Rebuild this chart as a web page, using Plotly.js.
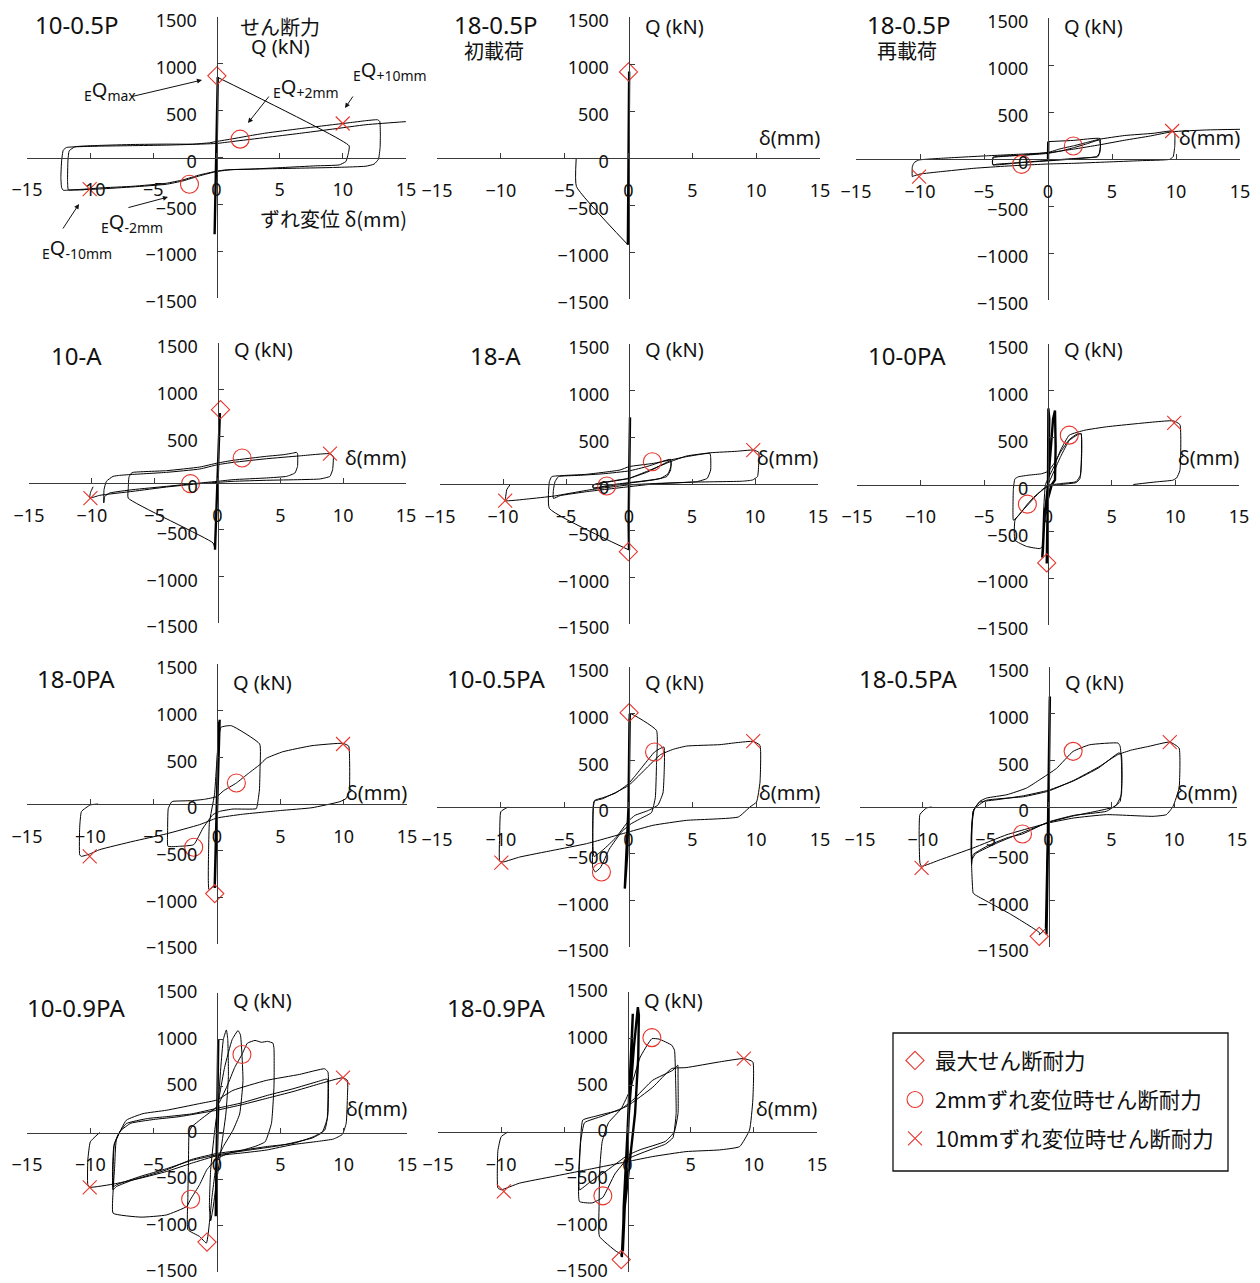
<!DOCTYPE html>
<html><head><meta charset="utf-8">
<script src="https://cdn.plot.ly/plotly-3.0.1.min.js"></script>
<style>html,body{margin:0;padding:0;background:#fff}#chart{width:1260px;height:1283px}</style>
</head><body><div id="chart"></div>
<script>
// ---------------- DATA (δ in mm, Q in kN) ----------------
const panelNames = ["10-0.5P","18-0.5P","18-0.5P","10-A","18-A","10-0PA","18-0PA","10-0.5PA","18-0.5PA","10-0.9PA","18-0.9PA"];
const panelSubs  = ["","初載荷","再載荷","","","","","","","",""];
const xTicks = [-15,-10,-5,0,5,10,15];
const yTicks = [-1500,-1000,-500,0,500,1000,1500];
const legendNames = ["最大せん断耐力","2mmずれ変位時せん断耐力","10mmずれ変位時せん断耐力"];

// initial near-zero cycles (drawn thicker)
const p1CoreX=[0,0.05,0.1,0.02,-0.1,-0.15,-0.05,0.05,0.1];
const p1CoreY=[0,400,860,0,-500,-820,0,450,855];
const p1LoopX=[0.1,10.5,10.45,10.24,9.71,7.87,5.24,2.61,0.76,0,-1.34,-2.66,-3.97,-6.61,-9.24,-10.55,-11.6,-11.74,-11.79,-11.76,-11.66,-11.21,-9.24,-6.6,-3.97,-1.87,-0.55,0,1.29,2.61,3.92,6.55,9.18,10.5,11.82,12.74,12.92,12.97,12.95,12.82,12.47,11.82,9.18,6.55,3.92,1.29,0,-1.34,-2.66,-3.97,-6.61,-9.24,-11.87,-12.13,-12.26,-12.32,-12.26,-12.13,-11.87,-9.24,-3.97,0,1.29,3.92,6.55,9.18,11.82,14.47,16.03];
const p1LoopY=[855,125,54,-43,-79,-89,-107,-125,-132,-146,-186,-239,-275,-307,-325,-339,-346,-343,-250,-36,71,114,129,139,143,143,157,171,200,232,261,307,350,371,393,403,386,250,107,-18,-71,-93,-107,-114,-121,-129,-150,-196,-250,-286,-314,-336,-350,-350,-321,-214,-36,79,107,121,132,150,171,214,257,303,350,378,393];

const p2CoreX=[0,0.03,0.05,0.02,-0.03,-0.05,0,0.04,0.02,-0.04,-0.05];
const p2CoreY=[0,500,920,300,-400,-700,0,500,0,-600,-923];
const p2LoopX=[-0.05,-4.08,-4.1];
const p2LoopY=[-923,-303,-10];

const p3CoreX=[0,0.02];
const p3CoreY=[0,185];
const p3LoopX=[0.02,2,4.06,4.1,4.05,3.9,3,2,0,-2,-4,-4.3,-4.35,-4.25,-3,-1,0,1,2,3,4,4.1,4,3.8,2,0,-2,-4.3,-4.3,-2,0,1,2,3,4,6,8.2,9.7,9.9,9.9,9.78,9.5,7.2,4.6,2,0,-3.2,-5.8,-8.4,-10,-10.5,-10.6,-10.6,-10.46,-10.1,-8.4,-5.05,-1.9,0,2,4,6,8,9.7,12.4,15];
const p3LoopY=[185,198,218,150,70,25,12,0,-20,-38,-55,-64,-30,15,32,48,60,85,120,160,200,140,60,25,5,-15,-35,-60,20,40,70,110,140,175,210,250,273,298,273,131,25,-4,-18,-32,-46,-53,-75,-99,-135,-160,-181,-188,-82,-39,-11,7,32,53,67,105,150,200,245,290,309,316];

const p4CoreX=[0,0.1,0.19,0.05,-0.1,-0.21,0,0.15,0.2,0,-0.2];
const p4CoreY=[0,400,750,200,-300,-700,0,600,740,100,-714];
const p4LoopX=[-0.2,-0.35,-7.11,-7.1,-7.05,-6.9,-6.72,-4.06,-1.41,0,1.25,3.9,5.23,6.03,6.29,6.37,6.37,6.16,5.5,3.9,1.25,0,-1.41,-4.06,-6.72,-8.57,-8.97,-9.05,-9.03,-8.84,-8.31,-7.78,-7.11,-4.06,-1.41,0,1.25,3.9,6.5,8.95,9.21,9.16,8.95,8.15,6.56,3.9,1.25,0,-1.41,-4.06,-6.72,-9.37,-10.17,-10.1,-9.9];
const p4LoopY=[-714,-643,-161,-60,60,100,114,132,171,214,243,286,303,321,328,314,178,107,71,54,36,18,0,-36,-71,-107,-143,-214,-71,18,71,82,89,114,150,196,221,260,290,314,286,143,71,43,36,29,18,7,-7,-43,-89,-132,-161,-100,-40];

const p5CoreX=[0,0.05,0.08,0.03,-0.03,0];
const p5CoreY=[0,400,714,200,-400,-707];
const p5LoopX=[0,-6.32,-6.32,-6.13,-5.47,-3.36,-0.71,0,1.93,3.25,4.57,5.37,6.42,6.48,6.48,6.21,5.37,1.93,0,-3.36,-5.47,-6,-6,-5.87,-5.6,-4,-2,0,1.5,3.3,3.35,3.1,2.5,1,0,-1.5,-2.83,-2.9,-2.5,-1.5,0,1.5,2.8,3.3,3.3,3,2,0,-2.8,-2.85,-1,0,1.5,3.3,4.57,6.5,8.5,9.86,10.3,10.3,10.2,9.8,9,5,2,0,-3,-6,-8,-9.83,-9.8,-9.7,-9.4];
const p5LoopY=[-707,-261,25,79,89,104,150,186,221,257,293,311,328,293,150,61,25,0,-29,-82,-125,-154,-64,25,79,92,110,140,190,264,200,110,60,30,15,-10,-46,-20,5,25,60,130,220,250,150,80,45,10,-40,-10,40,60,140,240,300,335,350,364,340,230,80,43,30,20,5,-10,-60,-130,-160,-179,-150,-60,0];

const p6CoreX=[0,0.05,0.03,0.1,0.02,-0.05,-0.1,-0.05,0,0.4,0.55,0.6,0.55,0.3,-0.3,-0.4,-0.45,-0.3,0];
const p6CoreY=[0,500,812,700,0,-500,-844,-700,0,700,790,400,50,0,-300,-700,-780,-400,0];
const p6LoopX=[0,0.5,1,1.67,2.3,2.6,2.64,2.6,2.5,2.2,1,0,-1,-1.62,-2.3,-2.72,-2.75,-2.72,-2.6,-2.33,-1.5,-0.5,0,0.5,1,1.67,2.3,2.6,2.65,2.55,2.2,1,0,-0.5,-1.2,-2,-2.59,-2.6,-1.7,-0.63,-0.37,-0.35,-0.2,0,0.5,1,1.67,2.9,4.6,7,9.83,10.36,10.36,10.1,9.8,8.5,6.7];
const p6LoopY=[0,150,300,470,530,545,400,200,60,20,0,-20,-120,-210,-330,-381,-250,-50,60,82,100,115,140,230,350,480,540,540,350,100,30,10,-10,-60,-160,-280,-380,-594,-660,-684,-650,-300,0,60,200,370,527,580,616,650,680,640,150,70,46,28,0];

const p7CoreX=[0,0.1,0.21,0.1,0,-0.1,-0.18,-0.05,0,0.2,0.15,0.05,-0.15,-0.18];
const p7CoreY=[0,500,903,300,0,-500,-900,-300,0,850,880,300,-800,-870];
const p7LoopX=[-0.18,-0.63,-0.66,-0.6,-0.2,0.3,1.13,3.37,3.4,3.35,3.2,3.1,1.26,0.21,-0.32,-1.1,-1.84,-2.95,-3.87,-3.9,-3.85,-3.6,-3.47,-2,-1,0,0.5,1.53,2.5,3.37,3.9,5.2,7.5,9.95,10.4,10.47,10.45,10.2,9.7,7.5,5,2,0,-1.37,-4,-6.63,-9.26,-10.05,-10.71,-10.84,-10.84,-10.7,-10,-9.39];
const p7LoopY=[-870,-917,-471,-200,100,820,839,643,400,150,0,-50,-54,-79,-114,-257,-436,-453,-453,-300,-50,20,29,36,50,80,140,225,330,421,490,560,625,650,620,450,150,60,25,-40,-70,-110,-150,-221,-320,-400,-489,-536,-561,-545,-250,-80,-10,0];

const p8CoreX=[0,0.05,0.1,0.05,0,-0.1,-0.29,-0.2,0,0.08];
const p8CoreY=[0,500,1000,400,0,-500,-875,-600,0,950];
const p8LoopX=[0.08,0.15,2.19,2.19,2.1,1.8,1,0.2,-0.5,-1.5,-2.2,-2.6,-2.8,-2.8,-2.75,-2.64,-2,-1,0,0.5,1.2,2.04,2.77,2.8,2.7,2.3,1.5,0.5,0,-1,-2,-2.7,-2.8,-2.7,-2,0,1.5,2.5,3.5,4.55,7.16,8.5,9.77,10.3,10.3,10.03,9.51,8.6,4.55,1.93,0,-3.29,-5.9,-8.52,-9.82,-10.09,-10.09,-10,-9.43];
const p8LoopY=[950,1000,821,446,100,-60,-120,-180,-260,-450,-650,-696,-650,-300,0,71,100,150,250,330,450,589,643,400,150,20,-40,-90,-150,-330,-460,-530,-300,60,90,230,430,560,618,653,668,690,703,660,268,54,0,-107,-143,-196,-268,-393,-464,-536,-589,-580,-300,-50,0];

const p9CoreX=[0,0.05,0.11,0.05,0,-0.1,-0.16,-0.05,0,0.1,0.02,-0.05,-0.2];
const p9CoreY=[0,600,1185,500,0,-600,-1367,-500,0,1150,300,-300,-1300];
const p9LoopX=[-0.2,-0.74,-0.69,-3,-5.86,-6,-6.1,-6.12,-6.1,-6,-5.46,-4.93,-3.3,-1.75,-0.69,0.64,1.96,3.28,5.54,5.7,5.8,5.8,5.41,4.61,2,0,-2.07,-3.3,-4.9,-6,-6.12,-6.15,-6.1,-5.9,-5.5,-4,-2,0,2,4,5.6,5.8,5.85,5.7,5.2,4,2,0,-2,-4,-5.8,-6.1,-6.15,-5.95,-5,-2,0,2,4,5.5,6.6,8,9.65,10.39,10.39,9.91,9.38,8.32,4.61,2,0,-3.3,-6,-8.6,-10.1,-10.23,-10.23,-9.7,-9.3];
const p9LoopY=[-1300,-1370,-1350,-1150,-939,-920,-700,-617,-300,-46,61,96,132,203,293,414,596,667,685,650,500,132,25,-46,-90,-160,-289,-330,-420,-510,-617,-500,-200,-20,50,80,120,180,280,420,580,560,300,60,0,-40,-95,-165,-270,-380,-500,-560,-300,-30,70,110,170,285,430,560,610,650,696,632,203,7,-82,-100,-82,-118,-171,-296,-439,-564,-635,-600,-80,-10,0];

const p10CoreX=[0,0.05,0.1,0.05,0,-0.05,-0.1,0,0.1];
const p10CoreY=[0,500,1000,300,0,-500,-900,-200,300];
const p10LoopX=[0.1,0.3,0.5,0.74,0.85,0.9,0.7,0.3,0,-0.3,-0.5,-0.6,-0.5,-0.2,0.2,0.6,1.2,1.66,1.85,2.05,1.79,1.26,0.5,0,-0.4,-0.84,-1.37,-2.29,-2.3,-2.25,-2.2,-2,-1.2,0,0.8,1.4,1.97,2.4,3,3.5,4,4.42,4.5,4.5,4.3,3.8,3,2,1,0,-0.8,-1.37,-2.08,-2.4,-4,-6,-8.2,-8.21,-8.08,-7.95,-7.16,-5.84,-4,-1.37,0,1.26,3.89,6.53,8.5,8.76,8.76,8.5,7.6,6,4,2,0,-2,-4,-6.63,-7.95,-8.21,-8.25,-8.15,-7.8,-7.16,-5.5,-4,-2,0,2,4,6,8,8.7,8.76,8.7,8.3,7.5,5,3,0,-2,-4,-6,-7.9,-8.15,-8.2,-8.1,-7.6,-6.8,-5,-3,0,2,4,6,8,9.95,10.3,10.3,10.2,9.9,9.2,8,6,3.89,2,0,-2,-4,-6,-8,-10.05,-10.2,-10.2,-10,-9.26];
const p10LoopY=[300,700,1000,1103,1000,600,200,-200,-500,-800,-950,-800,-400,0,400,700,1000,1096,1050,560,200,25,-150,-300,-700,-1189,-1118,-1046,-700,-300,0,60,150,280,500,700,839,960,990,970,980,960,900,500,100,-100,-150,-190,-220,-280,-400,-560,-718,-796,-887,-910,-868,-650,-368,-82,132,203,239,311,350,453,560,625,685,650,200,25,-46,-118,-150,-190,-225,-290,-403,-510,-582,-618,-400,-150,-20,96,150,170,200,260,320,400,470,550,575,540,150,0,-60,-140,-180,-240,-300,-390,-470,-560,-580,-400,-120,20,100,140,170,240,300,370,440,520,589,560,400,100,-20,-70,-95,-130,-189,-220,-250,-330,-420,-490,-550,-589,-560,-300,-100,0];

const p11CoreX=[0,0.2,0.42,0.3,0.1,-0.1,-0.37,-0.3,0,0.5,0.82,0.9,0.85,0.6,0.2,-0.3,-0.45];
const p11CoreY=[0,700,1267,800,200,-400,-1278,-800,0,900,1339,1250,800,200,-300,-900,-1340];
const p11LoopX=[-0.45,-0.6,-0.9,-2.22,-2.25,-2.2,-2,-1.5,-0.5,0.2,1,1.93,2.5,3.5,3.72,3.8,3.85,3.6,3,2,0,-1,-1.95,-2.8,-3.8,-3.85,-3.7,-3.54,-2.5,-1.69,-0.63,0.42,2,3.59,3.98,4,4,3.7,3,1,0,-1.5,-3,-3.8,-3.85,-3.7,-3.4,-2,0,2,3.5,4.64,7.28,9.21,9.92,9.92,9.66,8.87,7.28,4.64,2,0,-3.27,-5.91,-8.55,-10,-10.26,-10.26,-10,-9.47];
const p11LoopY=[-1340,-1300,-1278,-1118,-800,-400,-100,100,250,450,800,1000,995,930,876,600,199,-60,-130,-180,-290,-450,-700,-760,-745,-400,-50,128,170,199,235,342,555,662,716,600,200,0,-100,-190,-250,-400,-540,-620,-500,-100,100,170,280,480,680,690,751,787,751,342,21,-157,-192,-210,-263,-317,-406,-477,-548,-619,-600,-200,-50,0];

// characteristic points (per panel, null = none)
const qMaxX = [0.03,0,null,0.24,-0.05,-0.1,-0.18,0.05,-0.74,-0.79,-0.5];
const qMaxY = [872,916,null,785,-725,-837,-960,1010,-1385,-1178,-1367];
const q2pX = [1.87,null,1.98,1.96,1.85,1.67,1.53,2.04,1.96,1.97,1.93];
const q2pY = [196,null,138,268,239,527,225,589,596,839,1011];
const q2nX = [-2.14,null,-2.06,-2.15,-1.77,-1.62,-1.84,-2.12,-2.07,-2.08,-1.95];
const q2nY = [-285,null,-57,-7,-21,-210,-464,-696,-289,-718,-684];
const q10pX = [9.99,null,9.7,8.95,9.86,9.91,9.95,9.77,9.65,9.95,9.21];
const q10pY = [363,null,298,314,364,659,643,705,696,589,787];
const q10nX = [-10.04,null,-10.07,-10.11,-9.83,null,-10.05,-9.96,-10.1,-10.05,-9.79];
const q10nY = [-338,null,-188,-161,-179,null,-560,-596,-653,-589,-637];

const coreX=[p1CoreX,p2CoreX,p3CoreX,p4CoreX,p5CoreX,p6CoreX,p7CoreX,p8CoreX,p9CoreX,p10CoreX,p11CoreX];
const coreY=[p1CoreY,p2CoreY,p3CoreY,p4CoreY,p5CoreY,p6CoreY,p7CoreY,p8CoreY,p9CoreY,p10CoreY,p11CoreY];
const loopX=[p1LoopX,p2LoopX,p3LoopX,p4LoopX,p5LoopX,p6LoopX,p7LoopX,p8LoopX,p9LoopX,p10LoopX,p11LoopX];
const loopY=[p1LoopY,p2LoopY,p3LoopY,p4LoopY,p5LoopY,p6LoopY,p7LoopY,p8LoopY,p9LoopY,p10LoopY,p11LoopY];

// ---------------- LAYOUT (pixel boxes of each panel: left,right,top,bottom) ----------------
const W=1260,H=1283;
const boxes=[[27,406,17,298],[437,820,17,299],[856,1240,18,300],[29,406,343,623],[440,818,344,624],[857,1239,344,625],[27,407,664,944],[437,820,667,947],[860,1237,667,947],[27,407,993,1272],[438,817,992,1272]];
const titlePos=[[33,25],[452,25],[865,25],[49,355],[468,355],[866,355],[35,678],[445,678],[857,678],[25,1007],[445,1007]];
const FONT="'Noto Sans', 'Noto Sans CJK JP', sans-serif";
const JFONT="'Noto Sans CJK JP', 'Noto Sans', sans-serif";
const RED="#e8352c";
const px=v=>v/W, py=v=>1-v/H;

const traces=[];
const layout={width:W,height:H,margin:{l:0,r:0,t:0,b:0},paper_bgcolor:"#fff",plot_bgcolor:"rgba(0,0,0,0)",
  font:{family:FONT,color:"#111"},showlegend:true,annotations:[],shapes:[],
  legend:{x:px(895),y:py(1040),xanchor:"left",yanchor:"top",bgcolor:"rgba(0,0,0,0)",borderwidth:0,
    font:{family:JFONT,size:21.5,color:"#111"},traceorder:"grouped",tracegroupgap:8,itemsizing:"trace"}};

const seen={};
for(let i=0;i<11;i++){
  const s=i===0?"":String(i+1);
  const [L,R,T,B]=boxes[i];
  const xa="x"+s, ya="y"+s;
  layout["xaxis"+s]={domain:[px(L),px(R)],range:[-15,15],anchor:"free",position:py((T+B)/2),
    showline:true,linecolor:"#3a3a3a",linewidth:1,ticks:"inside",ticklen:5,tickcolor:"#3a3a3a",
    tickmode:"array",tickvals:xTicks,showgrid:false,zeroline:false,ticklabelstandoff:16,ticklabeloverflow:"allow",
    tickfont:{family:FONT,size:18,color:"#111"},fixedrange:true};
  layout["yaxis"+s]={domain:[py(B),py(T)],range:[-1500,1500],anchor:"free",position:px((L+R)/2),side:"left",
    showline:true,linecolor:"#3a3a3a",linewidth:1,ticks:"inside",ticklen:5,tickcolor:"#3a3a3a",
    tickmode:"array",tickvals:yTicks,showgrid:false,zeroline:false,ticklabelstandoff:16,ticklabelshift:(i>=9?-1:4),
    ticklabeloverflow:"allow",tickfont:{family:FONT,size:18,color:"#111"},fixedrange:true};
  traces.push({type:"scatter",mode:"lines",x:coreX[i],y:coreY[i],xaxis:xa,yaxis:ya,showlegend:false,hoverinfo:"skip",
    line:{color:"#000",width:2.4}});
  traces.push({type:"scatter",mode:"lines",x:loopX[i],y:loopY[i],xaxis:xa,yaxis:ya,showlegend:false,hoverinfo:"skip",
    line:{color:"#000",width:1,shape:"spline",smoothing:0.4}});
  const sets=[
    {g:"a",name:legendNames[0],sym:"diamond-open",size:14,xs:[qMaxX[i]],ys:[qMaxY[i]]},
    {g:"b",name:legendNames[1],sym:"circle-open",size:18,xs:[q2pX[i],q2nX[i]],ys:[q2pY[i],q2nY[i]]},
    {g:"c",name:legendNames[2],sym:"x-thin-open",size:14,xs:[q10pX[i],q10nX[i]],ys:[q10pY[i],q10nY[i]]}];
  sets.forEach(st=>{
    const xs=[],ys=[];
    st.xs.forEach((v,k)=>{if(v!==null){xs.push(v);ys.push(st.ys[k]);}});
    if(!xs.length) return;
    traces.push({type:"scatter",mode:"markers",x:xs,y:ys,xaxis:xa,yaxis:ya,name:st.name,legendgroup:st.g,
      showlegend:!seen[st.g],cliponaxis:false,hoverinfo:"skip",
      marker:{symbol:st.sym,size:st.size,color:RED,line:{color:RED,width:1.1}}});
    seen[st.g]=true;
  });
  // panel title
  layout.annotations.push({xref:"paper",yref:"paper",x:px(titlePos[i][0]),y:py(titlePos[i][1]),xanchor:"left",yanchor:"middle",
    text:panelNames[i],showarrow:false,font:{family:FONT,size:24,color:"#111"}});
  if(panelSubs[i]) layout.annotations.push({xref:"paper",yref:"paper",x:px(titlePos[i][0]+10),y:py(50),xanchor:"left",yanchor:"middle",
    text:panelSubs[i],showarrow:false,font:{family:JFONT,size:20,color:"#111"}});
  // axis labels
  const cx=(L+R)/2;
  if(i===0){
    layout.annotations.push({xref:"paper",yref:"paper",x:px(280),y:py(26),xanchor:"center",yanchor:"middle",text:"せん断力",showarrow:false,font:{family:JFONT,size:20,color:"#111"}});
    layout.annotations.push({xref:"paper",yref:"paper",x:px(280),y:py(46),xanchor:"center",yanchor:"middle",text:"Q (kN)",showarrow:false,font:{family:FONT,size:20,color:"#111"}});
    layout.annotations.push({xref:"paper",yref:"paper",x:px(409),y:py(218),xanchor:"right",yanchor:"middle",text:"ずれ変位 δ(mm)",showarrow:false,font:{family:JFONT,size:20,color:"#111"}});
  } else {
    const qy=[0,27,27,349,350,350,682,682,682,1000,1000][i];
    const dy=[0,137,137,458,458,458,792,792,792,1108,1108][i];
    layout.annotations.push({xref:"paper",yref:"paper",x:px(cx+14),y:py(qy),xanchor:"left",yanchor:"middle",text:"Q (kN)",showarrow:false,font:{family:FONT,size:20,color:"#111"}});
    layout.annotations.push({xref:"paper",yref:"paper",x:px(R+2),y:py(dy),xanchor:"right",yanchor:"middle",text:"δ(mm)",showarrow:false,font:{family:FONT,size:20,color:"#111"}});
  }
}

// panel-1 explanatory labels with arrows (arrow head / tail in panel-1 data units)
const arrowHeads=[[-1.15,827],[2.49,368],[10.17,528],[-3.84,-422],[-10.88,-496]];
const arrowTails=[[-6.85,646],[4.24,667],[10.88,667],[-7.09,-539],[-12.23,-774]];
arrowHeads.forEach((h,k)=>{
  layout.annotations.push({xref:"x",yref:"y",axref:"x",ayref:"y",x:h[0],y:h[1],ax:arrowTails[k][0],ay:arrowTails[k][1],
    text:"",showarrow:true,arrowhead:2,arrowsize:1,arrowwidth:1,arrowcolor:"#111",standoff:0,startstandoff:0});
});
const eqLabels=[["<sub>E</sub>Q<sub>max</sub>",82,91],["<sub>E</sub>Q<sub>+2mm</sub>",271,88],["<sub>E</sub>Q<sub>+10mm</sub>",351,71],
  ["<sub>E</sub>Q<sub>-2mm</sub>",99,223],["<sub>E</sub>Q<sub>-10mm</sub>",40,248]];
eqLabels.forEach(l=>layout.annotations.push({xref:"paper",yref:"paper",x:px(l[1]),y:py(l[2]),xanchor:"left",yanchor:"middle",
  text:l[0],showarrow:false,font:{family:FONT,size:20,color:"#111"}}));

// legend frame
layout.shapes.push({type:"rect",xref:"paper",yref:"paper",x0:px(893),x1:px(1228),y0:py(1171),y1:py(1033),line:{color:"#111",width:1.3}});

Plotly.newPlot("chart",traces,layout,{staticPlot:true,displayModeBar:false});
</script></body></html>
